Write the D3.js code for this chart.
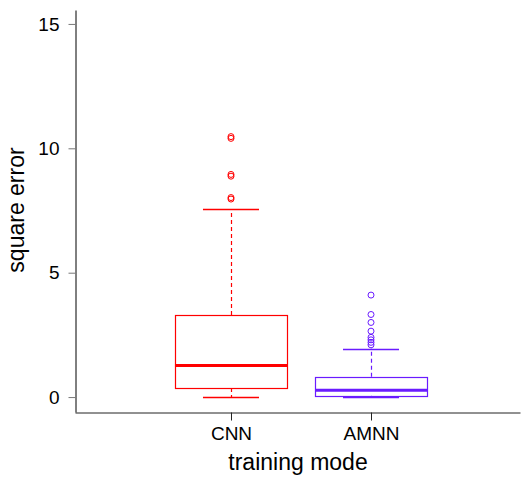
<!DOCTYPE html>
<html>
<head>
<meta charset="utf-8">
<script src="https://cdn.jsdelivr.net/npm/d3@7/dist/d3.min.js"></script>
<style>
  body { margin: 0; background: #fff; }
  svg { display: block; font-family: "Liberation Sans", Arial, sans-serif; }
</style>
</head>
<body>
<svg id="chart" width="522" height="479"></svg>
<script>
const categories = ["CNN", "AMNN"];
const colors = ["#ff0000", "#6a1bff"];
const whiskerLow = [0.0, 0.0];
const q1 = [0.36, 0.05];
const median = [1.27, 0.27];
const q3 = [3.3, 0.82];
const whiskerHigh = [7.55, 1.95];
const outliersCNN = [10.47, 10.4, 8.95, 8.88, 8.02, 7.96];
const outliersAMNN = [4.1, 3.32, 3.0, 2.65, 2.4, 2.3, 2.2, 2.1];
const outliers = [outliersCNN, outliersAMNN];
const yTicks = [0, 5, 10, 15];

const svg = d3.select("#chart");
const x = d3.scaleLinear().domain([-0.114, 3.064]).range([75, 520]);
const y = d3.scaleLinear().domain([-0.6, 15.56]).range([412, 10]);
const boxHalf = 0.4, capHalf = 0.2;

// axes
const yAxis = svg.append("g").attr("transform", "translate(75.5,0)")
  .call(d3.axisLeft(y).tickValues(yTicks).tickSize(7).tickSizeOuter(0).tickPadding(9));
yAxis.select(".domain").attr("stroke", "#000");
yAxis.selectAll(".tick line").attr("stroke", "#777");
yAxis.selectAll(".tick text").attr("font-size", 19).attr("fill", "#000");

const xAxis = svg.append("g").attr("transform", "translate(0,412.5)")
  .call(d3.axisBottom(x).tickValues([1, 2]).tickFormat((d) => categories[d - 1]).tickSize(8).tickSizeOuter(0).tickPadding(6));
xAxis.select(".domain").attr("stroke", "#222");
xAxis.selectAll(".tick line").attr("stroke", "#222");
xAxis.selectAll(".tick text").attr("font-size", 19).attr("fill", "#000");

// titles
svg.append("text").attr("x", 298).attr("y", 470).attr("text-anchor", "middle")
  .attr("font-size", 23).text("training mode");
svg.append("text").attr("transform", "translate(24,210) rotate(-90)").attr("text-anchor", "middle")
  .attr("font-size", 23).text("square error");

// boxes
categories.forEach((c, i) => {
  const cx = i + 1, col = colors[i];
  const g = svg.append("g");
  const xc = Math.round(x(cx)) + 0.5;
  // whiskers (dashed)
  g.append("line").attr("x1", xc).attr("x2", xc)
    .attr("y1", y(q3[i])).attr("y2", y(whiskerHigh[i]))
    .attr("stroke", col).attr("stroke-width", 1.2).attr("stroke-dasharray", "4,3");
  g.append("line").attr("x1", xc).attr("x2", xc)
    .attr("y1", y(q1[i])).attr("y2", y(whiskerLow[i]))
    .attr("stroke", col).attr("stroke-width", 1.2).attr("stroke-dasharray", "4,3");
  // caps
  [whiskerHigh[i], whiskerLow[i]].forEach((v) => {
    g.append("line").attr("x1", x(cx - capHalf)).attr("x2", x(cx + capHalf))
      .attr("y1", Math.round(y(v)) + 0.5).attr("y2", Math.round(y(v)) + 0.5)
      .attr("stroke", col).attr("stroke-width", 1.5);
  });
  // box
  g.append("rect").attr("x", Math.round(x(cx - boxHalf)) + 0.5).attr("y", Math.round(y(q3[i])) + 0.5)
    .attr("width", Math.round(x(cx + boxHalf)) - Math.round(x(cx - boxHalf)))
    .attr("height", Math.round(y(q1[i])) - Math.round(y(q3[i])))
    .attr("fill", "none").attr("stroke", col).attr("stroke-width", 1.2);
  // median
  g.append("line").attr("x1", x(cx - boxHalf)).attr("x2", x(cx + boxHalf))
    .attr("y1", y(median[i])).attr("y2", y(median[i]))
    .attr("stroke", col).attr("stroke-width", 3);
  // outliers
  g.selectAll("circle").data(outliers[i]).join("circle")
    .attr("cx", x(cx)).attr("cy", (d) => y(d)).attr("r", 3)
    .attr("fill", "none").attr("stroke", col).attr("stroke-width", 1);
});
</script>
</body>
</html>
